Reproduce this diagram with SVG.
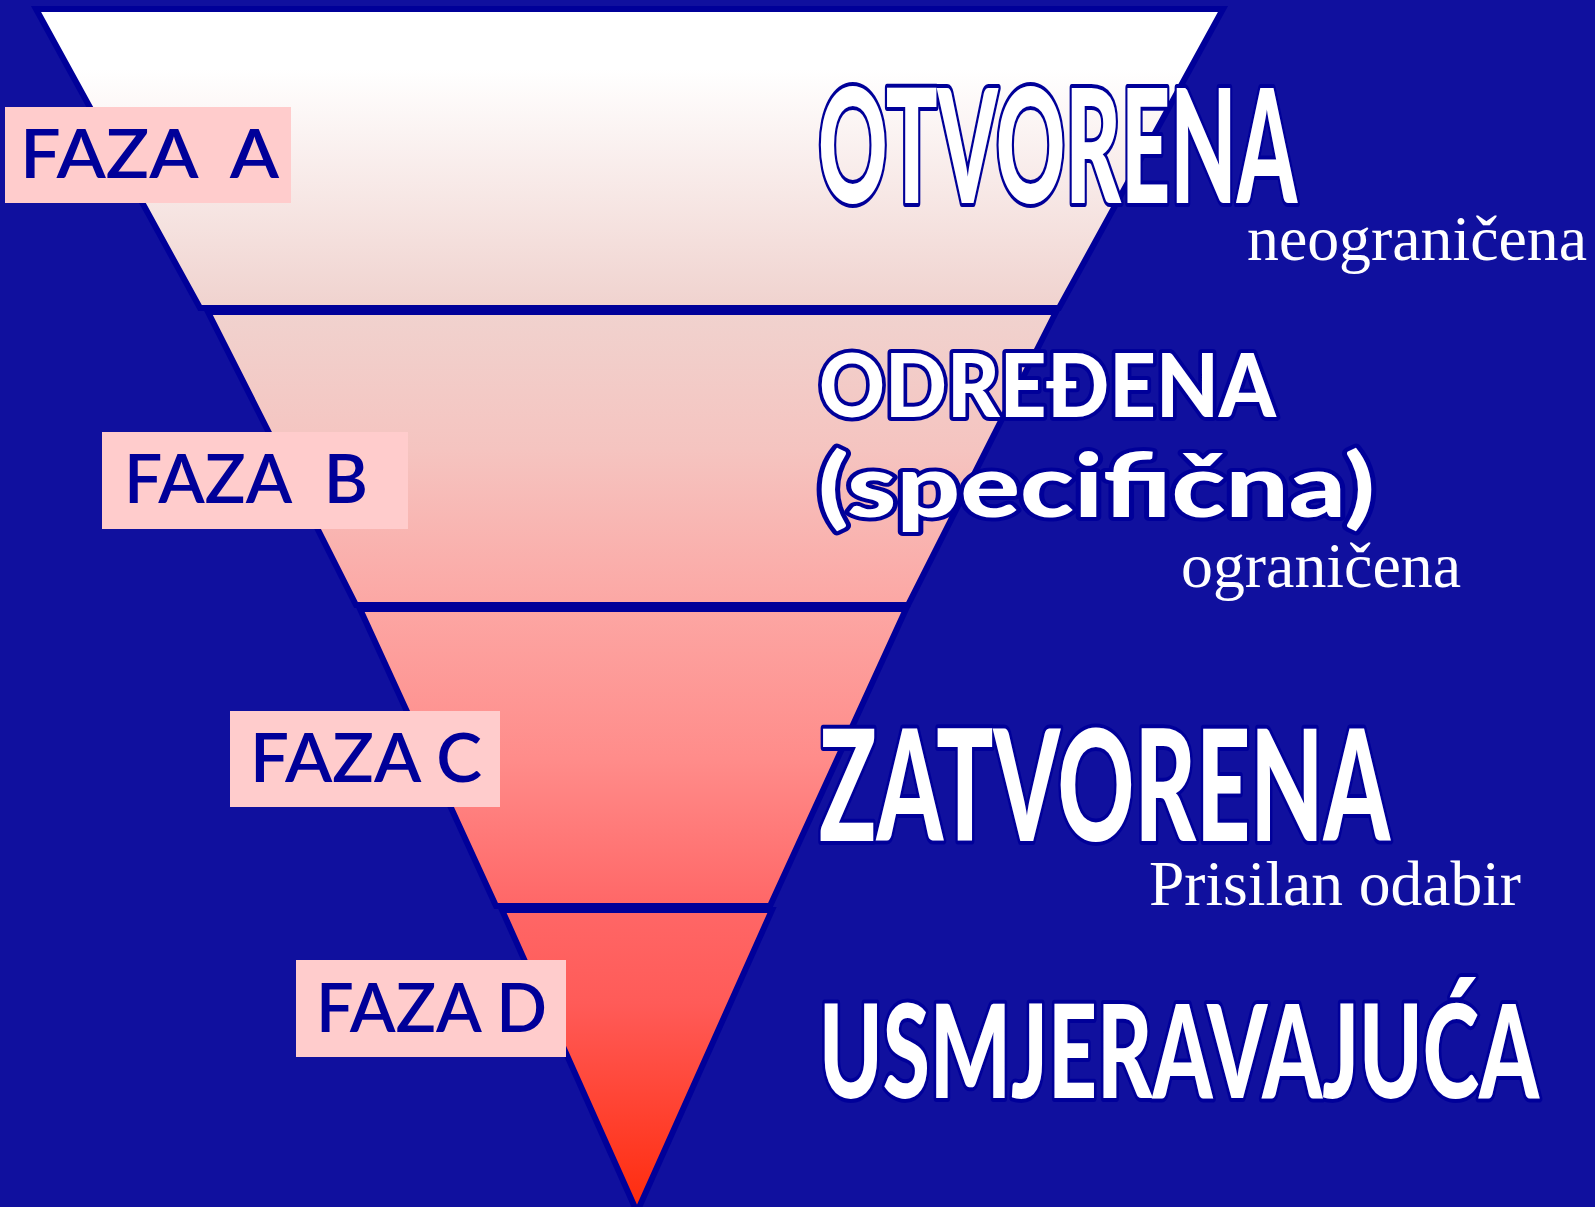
<svg xmlns="http://www.w3.org/2000/svg" width="1595" height="1207" viewBox="0 0 1595 1207">
  <defs>
    <linearGradient id="funnel" gradientUnits="userSpaceOnUse" x1="0" y1="9" x2="0" y2="1207">
      <stop offset="0" stop-color="#FFFFFF"/>
      <stop offset="0.05" stop-color="#FFFFFF"/>
      <stop offset="0.247" stop-color="#F0D3CF"/>
      <stop offset="0.368" stop-color="#F5C4C0"/>
      <stop offset="0.497" stop-color="#FCA7A4"/>
      <stop offset="0.626" stop-color="#FF8C8A"/>
      <stop offset="0.748" stop-color="#FF6767"/>
      <stop offset="0.83" stop-color="#FF5B58"/>
      <stop offset="1" stop-color="#FF2C0E"/>
    </linearGradient>
  </defs>
  <style>
    .band { fill: url(#funnel); stroke: #000099; stroke-width: 6; stroke-linejoin: miter; }
    .box { fill: #FFCCCC; }
    .faza { font-family: Lato, "Open Sans", "DejaVu Sans", sans-serif; font-weight: 600; font-size: 68px; fill: #000099; white-space: pre; }
    .big { font-family: Lato, "DejaVu Sans Condensed", "Liberation Sans", sans-serif; font-weight: 900; fill: #FFFFFF; stroke: #000099; stroke-width: 8; stroke-linejoin: round; paint-order: stroke; }
    .small { font-family: "Liberation Serif", "Times New Roman", serif; font-size: 64px; fill: #FFFFFF; }
  </style>
  <rect x="0" y="0" width="1595" height="1207" fill="#10109E"/>

  <g id="band-a"><polygon class="band" points="36,9 1223,9 1059,308 200,308"/></g>
  <g id="band-b"><polygon class="band" points="208,312 1056,312 908,605 356,605"/></g>
  <g id="band-c"><polygon class="band" points="360,609 906,609 770,906 496,906"/></g>
  <g id="band-d"><polygon class="band" points="502,910 772,910 637,1212"/></g>

  <g id="faza-a">
    <rect class="box" x="5" y="107" width="286" height="96"/>
    <text class="faza" x="20" y="178" textLength="259" lengthAdjust="spacingAndGlyphs">FAZA  A</text>
  </g>
  <g id="faza-b">
    <rect class="box" x="102" y="432" width="306" height="97"/>
    <text class="faza" x="124" y="503" textLength="244" lengthAdjust="spacingAndGlyphs">FAZA  B</text>
  </g>
  <g id="faza-c">
    <rect class="box" x="230" y="711" width="270" height="96"/>
    <text class="faza" x="250" y="782" textLength="232" lengthAdjust="spacingAndGlyphs">FAZA C</text>
  </g>
  <g id="faza-d">
    <rect class="box" x="296" y="960" width="270" height="97"/>
    <text class="faza" x="316" y="1032" textLength="231" lengthAdjust="spacingAndGlyphs">FAZA D</text>
  </g>

  <g id="label-otvorena">
    <text class="big" x="818" y="203" font-size="159" textLength="479" lengthAdjust="spacingAndGlyphs">OTVORENA</text>
    <text class="small" x="1247" y="260" textLength="340" lengthAdjust="spacingAndGlyphs">neograničena</text>
  </g>
  <g id="label-odredena">
    <text class="big" x="819" y="417" font-size="88" textLength="457" lengthAdjust="spacingAndGlyphs">ODREĐENA</text>
    <text class="big" x="818" y="517" font-size="88" textLength="557" lengthAdjust="spacingAndGlyphs">(specifična)</text>
    <text class="small" x="1181" y="587" textLength="280" lengthAdjust="spacingAndGlyphs">ograničena</text>
  </g>
  <g id="label-zatvorena">
    <text class="big" x="819" y="841" font-size="155" textLength="571" lengthAdjust="spacingAndGlyphs">ZATVORENA</text>
    <text class="small" x="1149" y="905" textLength="372" lengthAdjust="spacingAndGlyphs">Prisilan odabir</text>
  </g>
  <g id="label-usmjeravajuca">
    <text class="big" x="819" y="1098" font-size="130" textLength="720" lengthAdjust="spacingAndGlyphs">USMJERAVAJUĆA</text>
  </g>

  <g id="connectors"/>
</svg>
